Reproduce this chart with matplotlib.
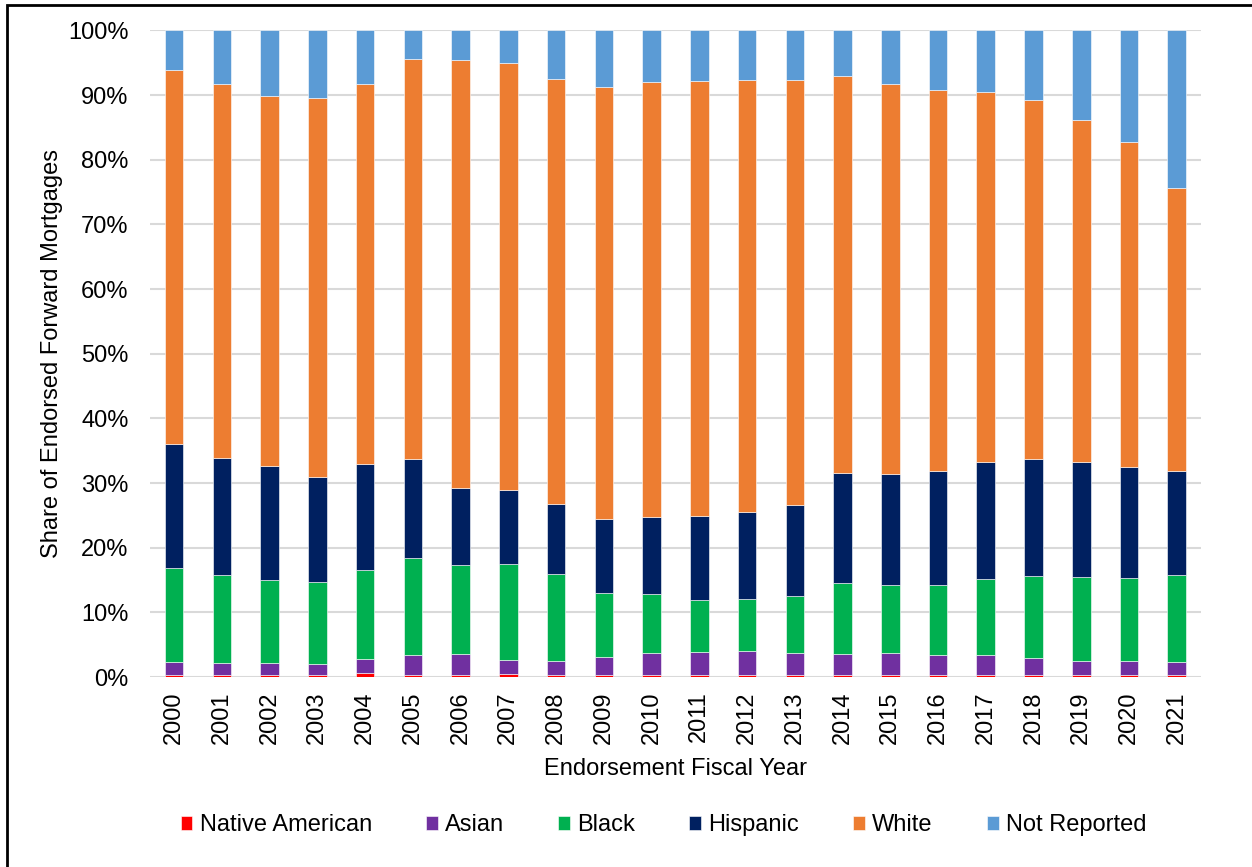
import matplotlib.pyplot as plt
import matplotlib.patches as patches
import numpy as np
from matplotlib.ticker import PercentFormatter

plt.rcParams['font.family'] = ['Liberation Sans', 'DejaVu Sans']

years = [str(y) for y in range(2000, 2022)]

# share of endorsed forward mortgages, percent
native_american = [0.3, 0.3, 0.3, 0.3, 0.6, 0.4, 0.4, 0.5, 0.3, 0.3, 0.3,
                   0.3, 0.3, 0.3, 0.3, 0.3, 0.3, 0.3, 0.3, 0.3, 0.3, 0.3]
asian = [2.0, 1.9, 1.9, 1.7, 2.2, 3.0, 3.2, 2.1, 2.2, 2.8, 3.4,
         3.6, 3.7, 3.4, 3.3, 3.4, 3.1, 3.1, 2.6, 2.2, 2.2, 2.0]
black = [14.5, 13.6, 12.8, 12.7, 13.8, 15.0, 13.8, 14.9, 13.4, 9.9, 9.1,
         8.1, 8.1, 8.8, 10.9, 10.5, 10.9, 11.7, 12.7, 13.0, 12.8, 13.5]
hispanic = [19.3, 18.1, 17.6, 16.3, 16.4, 15.3, 11.9, 11.4, 10.9, 11.5, 12.0,
            12.9, 13.5, 14.1, 17.1, 17.2, 17.6, 18.1, 18.2, 17.7, 17.2, 16.1]
white = [57.7, 57.8, 57.2, 58.5, 58.7, 61.8, 66.1, 66.0, 65.7, 66.7, 67.2,
         67.3, 66.8, 65.7, 61.4, 60.3, 58.9, 57.2, 55.4, 52.9, 50.2, 43.7]
not_reported = [6.2, 8.3, 10.2, 10.5, 8.3, 4.5, 4.6, 5.1, 7.5, 8.8, 8.0,
                7.8, 7.6, 7.7, 7.0, 8.3, 9.2, 9.6, 10.8, 13.9, 17.3, 24.4]

series = [
    ('Native American', native_american, '#FF0000'),
    ('Asian', asian, '#7030A0'),
    ('Black', black, '#00B050'),
    ('Hispanic', hispanic, '#002060'),
    ('White', white, '#ED7D31'),
    ('Not Reported', not_reported, '#5B9BD5'),
]

fs = 17

fig = plt.figure(figsize=(12.52, 8.67), dpi=100)
ax = fig.add_axes([0.12, 0.219, 0.839, 0.746])

x = np.arange(len(years))
bottom = np.zeros(len(years))
for name, vals, color in series:
    vals = np.array(vals) / 100
    ax.bar(x, vals, width=0.39, bottom=bottom, color=color, label=name,
           edgecolor='white', linewidth=0.4, zorder=3)
    bottom += vals

ax.set_xlim(-0.5, len(years) - 0.5)
ax.set_ylim(0, 1)
ax.set_yticks(np.arange(0, 1.01, 0.1))
ax.yaxis.set_major_formatter(PercentFormatter(1.0, decimals=0))
ax.set_xticks(x)
ax.set_xticklabels(years, rotation=90)
ax.tick_params(axis='both', length=0, labelsize=fs, colors='black')
ax.tick_params(axis='y', pad=15.5)
ax.tick_params(axis='x', pad=10)
ax.grid(axis='y', color='#D9D9D9', linewidth=1.5, zorder=0)
for s in ax.spines.values():
    s.set_visible(False)

ax.set_ylabel('Share of Endorsed Forward Mortgages', fontsize=fs, labelpad=4)
ax.set_xlabel('Endorsement Fiscal Year', fontsize=fs, labelpad=10)

fig.legend(loc='center', bbox_to_anchor=(0.53, 0.048), ncol=6, frameon=False,
           fontsize=fs, handlelength=0.5, handleheight=0.5,
           handletextpad=0.3, columnspacing=2.3)

# outer frame
fig.patches.append(patches.Rectangle((0.0056, -0.01), 1.0, 1.0042,
                                     transform=fig.transFigure, fill=False,
                                     edgecolor='black', linewidth=2))

fig.savefig('out.png', dpi=100)
